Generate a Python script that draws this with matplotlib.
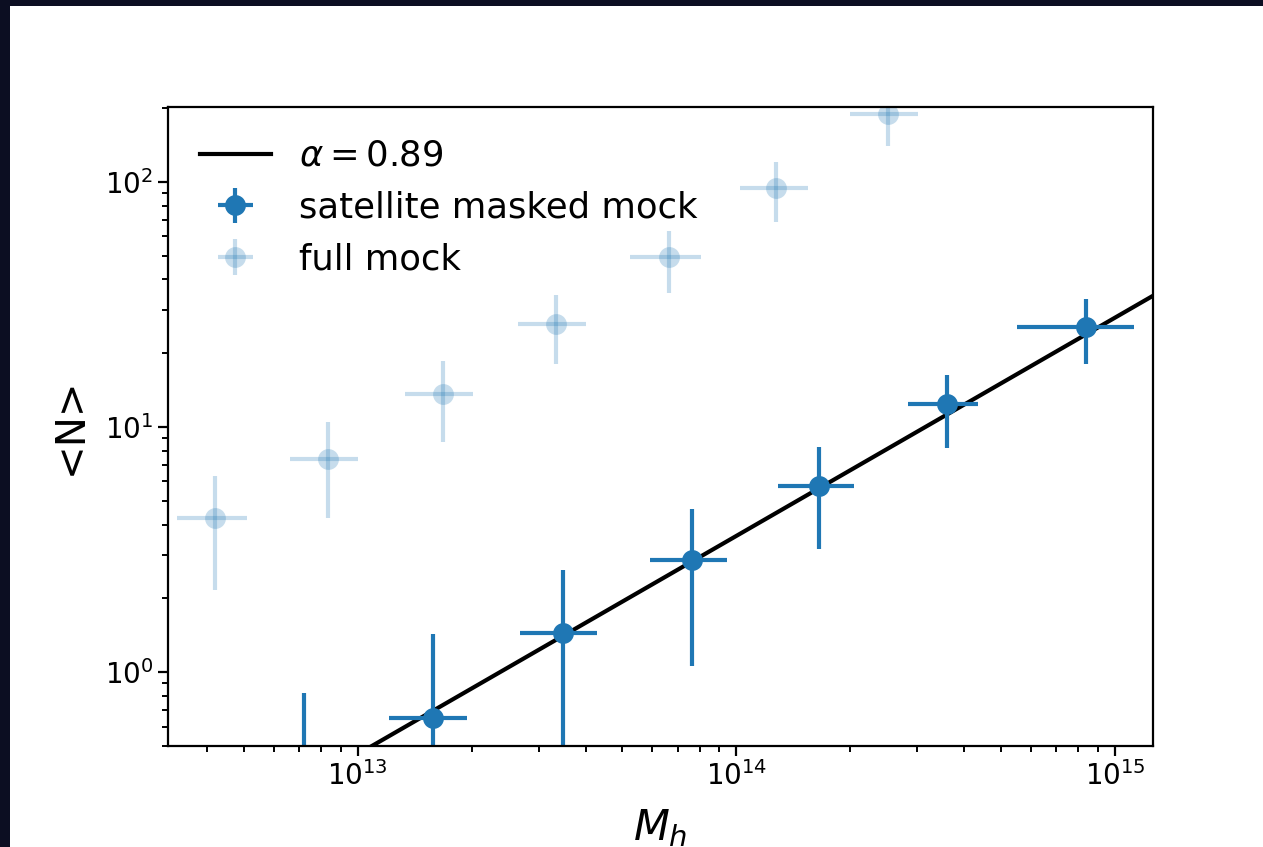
import numpy as np
import matplotlib.pyplot as plt
from matplotlib.patches import Rectangle

# satellite counts in the masked mock, per halo mass bin
mask_m = [7.2e12, 1.58e13, 3.48e13, 7.64e13, 1.65e14, 3.6e14, 8.37e14]
mask_m_lo = [5.6e12, 1.21e13, 2.68e13, 5.9e13, 1.29e14, 2.84e14, 5.5e14]
mask_m_hi = [9.3e12, 1.94e13, 4.28e13, 9.44e13, 2.05e14, 4.35e14, 1.12e15]
mask_n = [0.35, 0.65, 1.44, 2.86, 5.74, 12.4, 25.6]
mask_n_lo = [0.1, 0.3, 0.45, 1.06, 3.18, 8.2, 18.1]
mask_n_hi = [0.82, 1.43, 2.61, 4.63, 8.28, 16.3, 33.3]

# same thing for the full mock
full_m = [4.2e12, 8.33e12, 1.68e13, 3.34e13, 6.64e13, 1.27e14, 2.52e14]
full_m_lo = [3.33e12, 6.6e12, 1.33e13, 2.65e13, 5.24e13, 1.02e14, 1.99e14]
full_m_hi = [5.1e12, 1.0e13, 2.02e13, 4.01e13, 8.05e13, 1.55e14, 3.02e14]
full_n = [4.25, 7.4, 13.6, 26.3, 49.4, 94.6, 190.0]
full_n_lo = [2.16, 4.25, 8.7, 18.1, 35.2, 68.7, 140.0]
full_n_hi = [6.3, 10.5, 18.6, 34.6, 63.0, 120.8, 240.0]

alpha = 0.89
norm = 3.6  # <N> at M_h = 1e14


def errs(v, lo, hi):
    v = np.array(v)
    return [v - np.array(lo), np.array(hi) - v]


fig = plt.figure(figsize=(12.63, 8.47), dpi=100, facecolor='white')
# dark slide edge on the left and top
dark = '#0c0e22'
fig.patches.append(Rectangle((0, 0), 10 / 1263, 1, transform=fig.transFigure,
                             facecolor=dark, edgecolor='none'))
fig.patches.append(Rectangle((0, 1 - 6 / 847), 1, 6 / 847, transform=fig.transFigure,
                             facecolor=dark, edgecolor='none'))
ax = fig.add_axes([0.1330, 0.1192, 0.7799, 0.7544])

mgrid = np.logspace(12, 15.5, 200)
ax.plot(mgrid, norm * (mgrid / 1e14) ** alpha, color='k', lw=3,
        label=r'$\alpha = %.2f$' % alpha)
ax.errorbar(mask_m, mask_n, xerr=errs(mask_m, mask_m_lo, mask_m_hi),
            yerr=errs(mask_n, mask_n_lo, mask_n_hi), fmt='o', color='C0',
            ms=15, mew=0, elinewidth=3, label='satellite masked mock')
ax.errorbar(full_m, full_n, xerr=errs(full_m, full_m_lo, full_m_hi),
            yerr=errs(full_n, full_n_lo, full_n_hi), fmt='o', color='C0',
            ms=15, mew=0, elinewidth=3, alpha=0.25, label='full mock')

ax.set_xscale('log')
ax.set_yscale('log')
ax.set_xlim(3.15e12, 1.26e15)
ax.set_ylim(0.5, 202)
ax.set_xlabel(r'$M_h$', fontsize=30, labelpad=12)
ax.set_ylabel('<N>', fontsize=29, labelpad=10)
ax.tick_params(which='major', labelsize=20, length=7, width=1.6)
ax.tick_params(which='minor', length=4, width=1.4)
for s in ax.spines.values():
    s.set_linewidth(1.6)

ax.legend(loc='upper left', frameon=False, fontsize=25.5)

fig.savefig('out.png', dpi=100)
